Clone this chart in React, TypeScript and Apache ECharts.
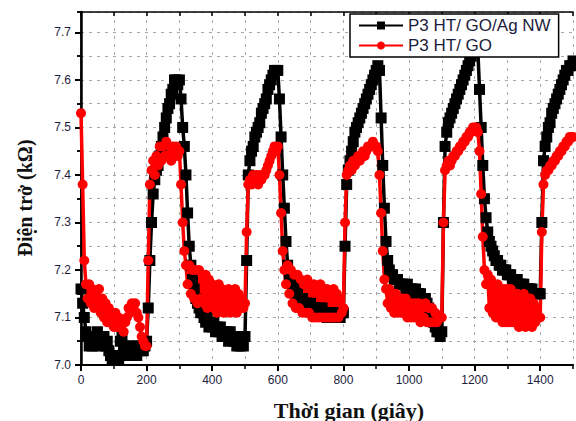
import React, { useEffect, useRef } from "react";
import * as echarts from "echarts";

// Sampling step of the recorded data (s)
const STEP = 5;

// P3HT/GO/Ag NW resistance (kΩ), one value every 5 s from t = 0 to 1500 s
const agnwValues: number[] = [
  // 0–195 s
  7.16, 7.13, 7.10, 7.07, 7.06, 7.04, 7.06, 7.04, 7.06, 7.05, 7.07, 7.04, 7.06, 7.05, 7.06, 7.04, 7.05, 7.03, 7.02, 7.01,
  7.02, 7.01, 7.02, 7.01, 7.05, 7.06, 7.04, 7.03, 7.02, 7.04, 7.03, 7.04, 7.02, 7.03, 7.02, 7.04, 7.03, 7.04, 7.03, 7.04,
  // 200–295 s
  7.05, 7.12, 7.22, 7.30, 7.36, 7.39, 7.41, 7.42, 7.44, 7.46, 7.48, 7.50, 7.52, 7.54, 7.55, 7.57, 7.58, 7.60, 7.60, 7.59,
  // 300–495 s
  7.60, 7.56, 7.50, 7.46, 7.40, 7.32, 7.25, 7.21, 7.18, 7.16, 7.14, 7.13, 7.12, 7.11, 7.12, 7.10, 7.09, 7.10, 7.08, 7.09,
  7.08, 7.09, 7.07, 7.08, 7.07, 7.08, 7.06, 7.07, 7.06, 7.07, 7.05, 7.07, 7.06, 7.05, 7.06, 7.04, 7.05, 7.04, 7.05, 7.04,
  // 500–595 s
  7.06, 7.22, 7.40, 7.43, 7.45, 7.46, 7.48, 7.49, 7.50, 7.51, 7.53, 7.54, 7.55, 7.56, 7.58, 7.59, 7.60, 7.61, 7.62, 7.62,
  // 600–795 s
  7.62, 7.56, 7.48, 7.40, 7.33, 7.26, 7.21, 7.19, 7.18, 7.17, 7.16, 7.15, 7.15, 7.14, 7.14, 7.14, 7.13, 7.13, 7.13, 7.12,
  7.13, 7.12, 7.12, 7.12, 7.11, 7.12, 7.11, 7.12, 7.11, 7.11, 7.10, 7.11, 7.10, 7.11, 7.10, 7.11, 7.10, 7.11, 7.10, 7.11,
  // 800–895 s
  7.11, 7.25, 7.38, 7.41, 7.43, 7.45, 7.47, 7.49, 7.50, 7.51, 7.52, 7.53, 7.54, 7.55, 7.56, 7.57, 7.58, 7.59, 7.60, 7.61,
  // 900–1095 s
  7.62, 7.63, 7.62, 7.52, 7.42, 7.33, 7.26, 7.22, 7.20, 7.19, 7.19, 7.18, 7.18, 7.18, 7.17, 7.17, 7.17, 7.17, 7.16, 7.17,
  7.16, 7.16, 7.16, 7.15, 7.16, 7.15, 7.15, 7.15, 7.14, 7.14, 7.14, 7.13, 7.12, 7.11, 7.10, 7.09, 7.08, 7.07, 7.07, 7.06,
  // 1100–1195 s
  7.07, 7.30, 7.46, 7.49, 7.51, 7.52, 7.53, 7.54, 7.55, 7.56, 7.57, 7.58, 7.59, 7.60, 7.61, 7.62, 7.63, 7.64, 7.65, 7.66,
  // 1200–1395 s
  7.66, 7.66, 7.66, 7.58, 7.50, 7.42, 7.35, 7.31, 7.28, 7.26, 7.25, 7.24, 7.23, 7.22, 7.22, 7.21, 7.21, 7.20, 7.20, 7.20,
  7.19, 7.19, 7.19, 7.18, 7.18, 7.18, 7.18, 7.17, 7.17, 7.17, 7.17, 7.16, 7.16, 7.16, 7.16, 7.16, 7.15, 7.15, 7.15, 7.15,
  // 1400–1500 s
  7.15, 7.30, 7.43, 7.46, 7.48, 7.50, 7.51, 7.53, 7.54, 7.55, 7.56, 7.57, 7.58, 7.59, 7.60, 7.61, 7.62, 7.62, 7.63, 7.63,
  7.64,
];

// P3HT/GO resistance (kΩ), one value every 5 s from t = 0 to 1500 s
const goValues: number[] = [
  // 0–195 s
  7.53, 7.38, 7.22, 7.17, 7.14, 7.17, 7.13, 7.16, 7.12, 7.15, 7.13, 7.16, 7.11, 7.14, 7.10, 7.13, 7.09, 7.12, 7.09, 7.11,
  7.08, 7.11, 7.08, 7.10, 7.08, 7.09, 7.07, 7.09, 7.10, 7.12, 7.11, 7.13, 7.12, 7.13, 7.11, 7.10, 7.08, 7.06, 7.05, 7.04,
  // 200–295 s
  7.04, 7.22, 7.38, 7.41, 7.43, 7.40, 7.44, 7.42, 7.46, 7.43, 7.46, 7.44, 7.47, 7.44, 7.46, 7.43, 7.46, 7.44, 7.46, 7.44,
  // 300–495 s
  7.45, 7.38, 7.30, 7.24, 7.21, 7.17, 7.21, 7.15, 7.20, 7.14, 7.20, 7.13, 7.20, 7.14, 7.19, 7.13, 7.19, 7.12, 7.18, 7.13,
  7.17, 7.12, 7.16, 7.11, 7.17, 7.12, 7.16, 7.11, 7.15, 7.12, 7.16, 7.11, 7.15, 7.12, 7.16, 7.11, 7.15, 7.12, 7.14, 7.12,
  // 500–595 s
  7.13, 7.28, 7.38, 7.39, 7.38, 7.40, 7.39, 7.40, 7.38, 7.40, 7.39, 7.40, 7.40, 7.41, 7.42, 7.43, 7.44, 7.45, 7.46, 7.45,
  // 600–795 s
  7.46, 7.40, 7.32, 7.24, 7.20, 7.17, 7.21, 7.15, 7.20, 7.13, 7.19, 7.12, 7.19, 7.12, 7.18, 7.11, 7.17, 7.11, 7.18, 7.11,
  7.16, 7.10, 7.17, 7.10, 7.16, 7.10, 7.17, 7.10, 7.15, 7.10, 7.16, 7.10, 7.15, 7.10, 7.16, 7.10, 7.15, 7.10, 7.14, 7.11,
  // 800–895 s
  7.12, 7.30, 7.40, 7.41, 7.42, 7.41, 7.43, 7.42, 7.43, 7.44, 7.43, 7.44, 7.45, 7.44, 7.45, 7.46, 7.46, 7.46, 7.47, 7.46,
  // 900–1095 s
  7.46, 7.45, 7.40, 7.32, 7.24, 7.18, 7.16, 7.13, 7.16, 7.12, 7.15, 7.11, 7.15, 7.11, 7.14, 7.11, 7.14, 7.11, 7.14, 7.10,
  7.13, 7.10, 7.13, 7.10, 7.13, 7.10, 7.13, 7.09, 7.12, 7.10, 7.13, 7.09, 7.12, 7.09, 7.12, 7.09, 7.11, 7.09, 7.10, 7.10,
  // 1100–1195 s
  7.10, 7.30, 7.41, 7.42, 7.43, 7.42, 7.43, 7.44, 7.44, 7.45, 7.45, 7.46, 7.46, 7.47, 7.47, 7.48, 7.48, 7.49, 7.49, 7.50,
  // 1200–1395 s
  7.50, 7.50, 7.49, 7.45, 7.36, 7.27, 7.20, 7.17, 7.19, 7.12, 7.18, 7.11, 7.17, 7.10, 7.17, 7.10, 7.16, 7.09, 7.16, 7.09,
  7.16, 7.09, 7.16, 7.09, 7.15, 7.09, 7.15, 7.08, 7.14, 7.09, 7.15, 7.08, 7.14, 7.09, 7.14, 7.08, 7.13, 7.09, 7.12, 7.10,
  // 1400–1500 s
  7.10, 7.28, 7.38, 7.40, 7.41, 7.41, 7.42, 7.42, 7.43, 7.43, 7.44, 7.44, 7.45, 7.45, 7.46, 7.46, 7.47, 7.47, 7.48, 7.48,
  7.48,
];

const seriesNames = ["P3 HT/ GO/Ag NW", "P3 HT/ GO"];
const xTitle = "Thời gian (giây)";
const yTitle = "Điện trở (kΩ)";

const X_MIN = 0;
const X_MAX = 1500;
const Y_MIN = 7.0;
const Y_MAX = 7.743;

const toPairs = (vals: number[]) => vals.map((v, i) => [i * STEP, v]);

const gridLine = { show: true, lineStyle: { color: "#a8a8a8", type: [3, 5] as any, width: 1 } };
const labelFont = { fontFamily: "Liberation Sans, Arial, sans-serif", fontSize: 12, color: "#1c1c3c" };

export default function App() {
  const ref = useRef<HTMLDivElement>(null);
  useEffect(() => {
    if (!ref.current) return;
    const chart = echarts.init(ref.current, undefined, { renderer: "svg" });
    chart.setOption({
      animation: false,
      backgroundColor: "#fff",
      grid: { left: 81, right: 3, top: 12, bottom: 56 },
      legend: {
        data: seriesNames,
        orient: "vertical",
        left: 350,
        top: 14,
        padding: [3, 8, 3, 8],
        itemGap: 3,
        itemWidth: 44,
        itemHeight: 10,
        backgroundColor: "#fff",
        borderColor: "#000",
        borderWidth: 1.5,
        borderRadius: 0,
        textStyle: { fontFamily: "Liberation Sans, Arial, sans-serif", fontSize: 17, color: "#1c1c3c" },
      },
      xAxis: [
        {
          type: "value", position: "bottom", min: X_MIN, max: X_MAX, interval: 200,
          axisLine: { show: true, lineStyle: { color: "#000", width: 2 } },
          axisTick: { show: true, inside: false, length: 6, lineStyle: { color: "#000", width: 2 } },
          axisLabel: { ...labelFont, margin: 9, showMaxLabel: false, formatter: (v: number) => String(v) },
          splitLine: { show: false },
        },
        {
          type: "value", position: "bottom", min: X_MIN, max: X_MAX, interval: 100,
          axisLine: { show: false },
          axisTick: { show: true, inside: false, length: 4, lineStyle: { color: "#000", width: 1.5 } },
          axisLabel: { show: false },
          splitLine: gridLine,
        },
        {
          type: "value", position: "top", min: X_MIN, max: X_MAX, interval: 100,
          axisLine: { show: true, lineStyle: { color: "#000", width: 1.5 } },
          axisTick: { show: true, inside: true, length: 4, lineStyle: { color: "#000", width: 1.5 } },
          axisLabel: { show: false },
          splitLine: { show: false },
        },
      ],
      yAxis: [
        {
          type: "value", position: "left", min: Y_MIN, max: Y_MAX, interval: 0.1,
          axisLine: { show: true, lineStyle: { color: "#000", width: 2.5 } },
          axisTick: { show: true, inside: false, length: 6, lineStyle: { color: "#000", width: 2 } },
          axisLabel: { ...labelFont, margin: 10, showMaxLabel: false, formatter: (v: number) => v.toFixed(1) },
          splitLine: { show: false },
        },
        {
          type: "value", position: "left", min: Y_MIN, max: Y_MAX, interval: 0.05,
          axisLine: { show: false },
          axisTick: { show: true, inside: false, length: 4, lineStyle: { color: "#000", width: 1.5 } },
          axisLabel: { show: false },
          splitLine: gridLine,
        },
        {
          type: "value", position: "right", min: Y_MIN, max: Y_MAX, interval: 0.05,
          axisLine: { show: true, lineStyle: { color: "#000", width: 1.5 } },
          axisTick: { show: true, inside: true, length: 4, lineStyle: { color: "#000", width: 1.5 } },
          axisLabel: { show: false },
          splitLine: { show: false },
        },
      ],
      series: [
        {
          name: seriesNames[0],
          type: "line",
          data: toPairs(agnwValues),
          xAxisIndex: 0,
          yAxisIndex: 0,
          symbol: "rect",
          symbolSize: 11,
          showAllSymbol: true,
          color: "#000",
          lineStyle: { color: "#000", width: 3.5 },
          itemStyle: { color: "#000" },
        },
        {
          name: seriesNames[1],
          type: "line",
          data: toPairs(goValues),
          xAxisIndex: 0,
          yAxisIndex: 0,
          symbol: "circle",
          symbolSize: 10,
          showAllSymbol: true,
          color: "#ff0000",
          lineStyle: { color: "#ff0000", width: 3.5 },
          itemStyle: { color: "#ff0000" },
        },
      ],
      graphic: [
        {
          type: "text",
          x: 349,
          y: 410,
          style: {
            text: xTitle,
            fontFamily: "Liberation Serif, Times New Roman, serif",
            fontWeight: "bold",
            fontSize: 22,
            fill: "#111",
            textAlign: "center",
            textVerticalAlign: "middle",
          },
        },
        {
          type: "text",
          x: 25,
          y: 198,
          rotation: Math.PI / 2,
          style: {
            text: yTitle,
            fontFamily: "Liberation Serif, Times New Roman, serif",
            fontWeight: "bold",
            fontSize: 20,
            fill: "#111",
            textAlign: "center",
            textVerticalAlign: "middle",
          },
        },
      ],
    });
    return () => chart.dispose();
  }, []);
  return (
    <div
      ref={ref}
      style={{ position: "fixed", left: 0, top: 0, width: 576, height: 421 }}
    />
  );
}
